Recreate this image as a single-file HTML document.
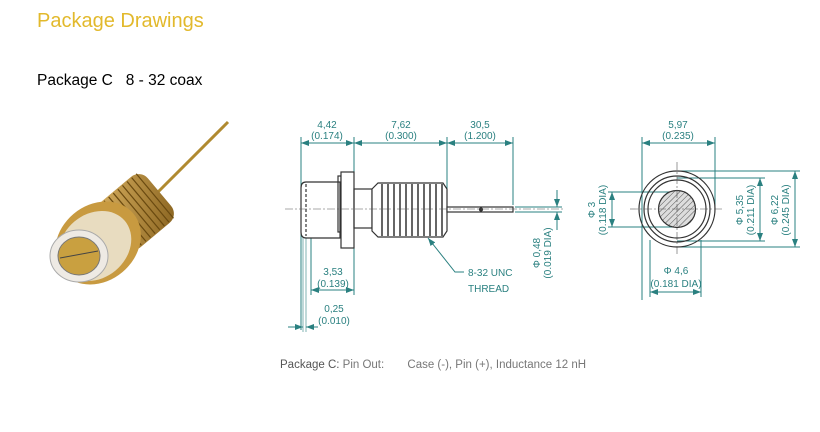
<!DOCTYPE html>
<html><head><meta charset="utf-8"><style>
body{margin:0;background:#fff;width:820px;height:432px;overflow:hidden;font-family:"Liberation Sans",sans-serif;position:relative}
.t{position:absolute;left:37px;top:10px;font-size:20px;color:#e2b92c}
.s{position:absolute;left:37px;top:72px;font-size:15.5px;color:#000}
.c{position:absolute;left:280px;top:359px;font-size:11.5px;color:#777}
svg{position:absolute;left:0;top:0}
</style></head><body>
<div class="t">Package Drawings</div>
<div class="s">Package C &nbsp;&nbsp;8 - 32 coax</div>
<div class="c"><span style="color:#555">Package C:</span> Pin Out: <span style="margin-left:20px">Case (-), Pin (+), Inductance 12 nH</span></div>
<svg width="820" height="432" viewBox="0 0 820 432">
<defs>
<marker id="a" markerWidth="8" markerHeight="6" refX="8" refY="3" orient="auto-start-reverse"><path d="M0,0L8,3L0,6z" fill="#2a8080"/></marker>
<pattern id="h" width="4" height="4" patternUnits="userSpaceOnUse" patternTransform="rotate(45)"><rect width="4" height="4" fill="#ddd"/><line x1="0" y1="0" x2="0" y2="4" stroke="#555" stroke-width="1"/></pattern>
<linearGradient id="g" x1="0" y1="0" x2="1" y2="1"><stop offset="0" stop-color="#d8b060"/><stop offset="1" stop-color="#8a6420"/></linearGradient>
</defs>
<!-- photo -->
<line x1="228" y1="122" x2="150" y2="200" stroke="#b08a30" stroke-width="3"/>
<g transform="translate(112,232) rotate(-40)">
<rect x="0" y="-30" width="62" height="60" rx="12" fill="url(#g)"/>
<g stroke="#6a4a10" stroke-width="1.2">
<line x1="8" y1="-29" x2="8" y2="29"/><line x1="14" y1="-29" x2="14" y2="29"/><line x1="20" y1="-29" x2="20" y2="29"/><line x1="26" y1="-29" x2="26" y2="29"/><line x1="32" y1="-29" x2="32" y2="29"/><line x1="38" y1="-29" x2="38" y2="29"/><line x1="44" y1="-29" x2="44" y2="29"/><line x1="50" y1="-29" x2="50" y2="29"/><line x1="56" y1="-29" x2="56" y2="29"/></g>
</g>
<ellipse cx="98" cy="243" rx="46" ry="38" transform="rotate(-40 98 243)" fill="#c89a40"/>
<ellipse cx="95" cy="246" rx="39" ry="32" transform="rotate(-40 95 246)" fill="#e8dcc0"/>
<ellipse cx="79" cy="256" rx="29" ry="26" fill="#eeeae4" stroke="#aaa"/>
<ellipse cx="79" cy="256" rx="21" ry="19" fill="#c9a040" stroke="#777"/>
<line x1="60" y1="258" x2="98" y2="251" stroke="#444"/>
<!-- side view -->
<g stroke="#2a8080" fill="none" stroke-width="1">
<line x1="301" y1="137" x2="301" y2="330"/><line x1="354" y1="137" x2="354" y2="295"/><line x1="447" y1="137" x2="447" y2="205"/><line x1="513" y1="137" x2="513" y2="205"/>
<line x1="301" y1="143" x2="354" y2="143" marker-start="url(#a)" marker-end="url(#a)"/>
<line x1="354" y1="143" x2="447" y2="143" marker-start="url(#a)" marker-end="url(#a)"/>
<line x1="447" y1="143" x2="513" y2="143" marker-start="url(#a)" marker-end="url(#a)"/>
<line x1="311" y1="210" x2="311" y2="295"/>
<line x1="311" y1="290" x2="354" y2="290" marker-start="url(#a)" marker-end="url(#a)"/>
<line x1="303" y1="215" x2="303" y2="332" stroke-width="0.6"/><line x1="306" y1="215" x2="306" y2="332" stroke-width="0.6"/>
<line x1="288" y1="327" x2="303" y2="327" marker-end="url(#a)"/><line x1="318" y1="327" x2="306" y2="327" marker-end="url(#a)"/>
<line x1="515" y1="207" x2="562" y2="207"/><line x1="515" y1="212" x2="562" y2="212"/>
<line x1="557" y1="190" x2="557" y2="207" marker-end="url(#a)"/><line x1="557" y1="230" x2="557" y2="212" marker-end="url(#a)"/>
<polyline points="428,238 455,272 464,272" marker-start="url(#a)"/>
<!-- front view dims -->
<line x1="642" y1="137" x2="642" y2="300"/><line x1="715" y1="137" x2="715" y2="209"/>
<line x1="642" y1="143" x2="715" y2="143" marker-start="url(#a)" marker-end="url(#a)"/>
<line x1="650" y1="240" x2="650" y2="297"/><line x1="701" y1="240" x2="701" y2="297"/>
<line x1="650" y1="292" x2="701" y2="292" marker-start="url(#a)" marker-end="url(#a)"/>
<line x1="608" y1="192" x2="677" y2="192"/><line x1="608" y1="227" x2="677" y2="227"/>
<line x1="612" y1="192" x2="612" y2="227" marker-start="url(#a)" marker-end="url(#a)"/>
<line x1="677" y1="178" x2="765" y2="178"/><line x1="677" y1="241" x2="765" y2="241"/>
<line x1="760" y1="178" x2="760" y2="241" marker-start="url(#a)" marker-end="url(#a)"/>
<line x1="677" y1="171" x2="800" y2="171"/><line x1="677" y1="247" x2="800" y2="247"/>
<line x1="795" y1="171" x2="795" y2="247" marker-start="url(#a)" marker-end="url(#a)"/>
</g>
<g stroke="#333" fill="none" stroke-width="1.2">
<path d="M340,182 H306 Q301,182 301,188 V232 Q301,238 306,238 H340 Z" fill="#fff"/>
<line x1="306" y1="184" x2="306" y2="236" stroke-dasharray="3,2"/>
<rect x="338" y="176" width="3" height="56"/>
<rect x="341" y="172" width="13" height="76" fill="#fff"/>
<rect x="354" y="189" width="18" height="39"/>
<path d="M372,189 L378,183 H443 L447,189 V231 L443,237 H378 L372,231 Z" fill="#fff"/>
<g stroke-width="1.5"><line x1="382" y1="184" x2="382" y2="236"/><line x1="388" y1="184" x2="388" y2="236"/><line x1="394" y1="184" x2="394" y2="236"/><line x1="400" y1="184" x2="400" y2="236"/><line x1="406" y1="184" x2="406" y2="236"/><line x1="412" y1="184" x2="412" y2="236"/><line x1="418" y1="184" x2="418" y2="236"/><line x1="424" y1="184" x2="424" y2="236"/><line x1="430" y1="184" x2="430" y2="236"/><line x1="436" y1="184" x2="436" y2="236"/><line x1="442" y1="184" x2="442" y2="236"/></g>
<rect x="447" y="207" width="66" height="5" fill="#fff"/>
<circle cx="481" cy="209.5" r="1.5" fill="#333"/>
<circle cx="677" cy="209" r="38"/><circle cx="677" cy="209" r="33"/><circle cx="677" cy="209" r="29"/>
<circle cx="677" cy="209" r="18.5" fill="url(#h)"/>
</g>
<g stroke="#555" stroke-width="0.6" stroke-dasharray="8,2,2,2">
<line x1="285" y1="209" x2="565" y2="209"/>
<line x1="630" y1="209" x2="724" y2="209"/><line x1="677" y1="162" x2="677" y2="256"/>
</g>
<g fill="#2a8080" font-size="10" text-anchor="middle" font-family="Liberation Sans,sans-serif">
<text x="327" y="128">4,42</text><text x="327" y="139">(0.174)</text>
<text x="401" y="128">7,62</text><text x="401" y="139">(0.300)</text>
<text x="480" y="128">30,5</text><text x="480" y="139">(1.200)</text>
<text x="333" y="275">3,53</text><text x="333" y="287">(0.139)</text>
<text x="334" y="312">0,25</text><text x="334" y="324">(0.010)</text>
<text x="468" y="276" text-anchor="start">8-32 UNC</text><text x="468" y="292" text-anchor="start">THREAD</text>
<text transform="translate(540,253) rotate(-90)">Φ 0,48</text><text transform="translate(551,253) rotate(-90)">(0.019 DIA)</text>
<text x="678" y="128">5,97</text><text x="678" y="139">(0.235)</text>
<text x="676" y="274">Φ 4,6</text><text x="676" y="287">(0.181 DIA)</text>
<text transform="translate(595,210) rotate(-90)">Φ 3</text><text transform="translate(606,210) rotate(-90)">(0.118 DIA)</text>
<text transform="translate(743,210) rotate(-90)">Φ 5,35</text><text transform="translate(754,210) rotate(-90)">(0.211 DIA)</text>
<text transform="translate(778,210) rotate(-90)">Φ 6,22</text><text transform="translate(789,210) rotate(-90)">(0.245 DIA)</text>
</g>
</svg>
</body></html>
